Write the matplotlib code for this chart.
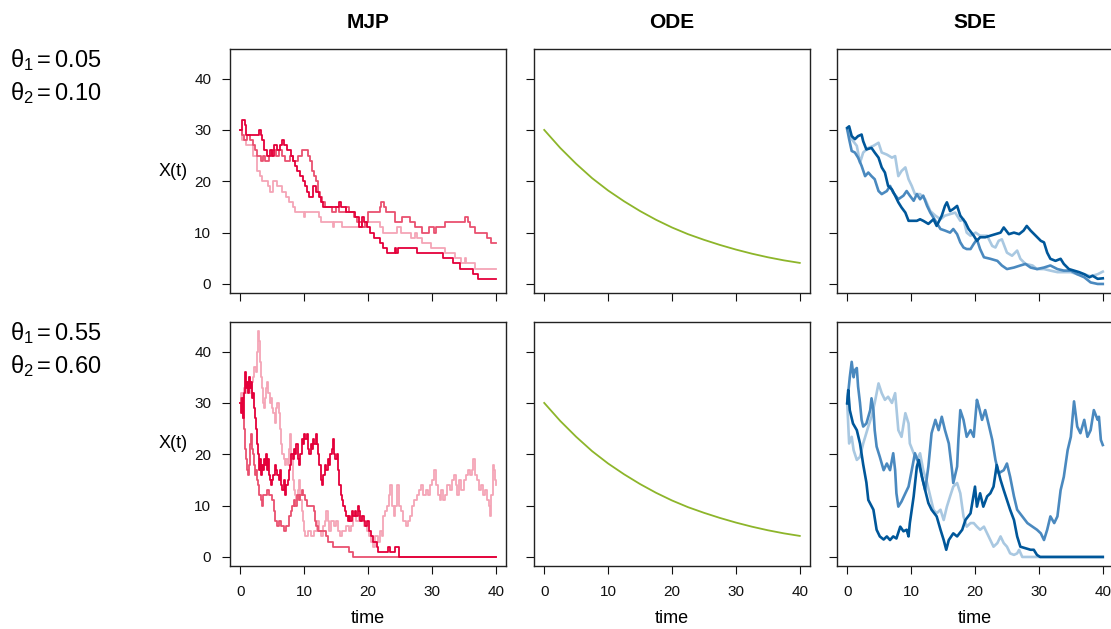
import numpy as np
import matplotlib
matplotlib.use("Agg")
import matplotlib.pyplot as plt

plt.rcParams['font.family'] = ['Liberation Sans', 'DejaVu Sans']
plt.rcParams['mathtext.fontset'] = 'custom'
plt.rcParams['mathtext.rm'] = 'Liberation Sans'
plt.rcParams['mathtext.it'] = 'Liberation Sans'

# ---- data: (time, X(t)) pairs ----
theta_rows = [("0.05", "0.10"), ("0.55", "0.60")]
col_titles = ["MJP", "ODE", "SDE"]
ticks = [0, 10, 20, 30, 40]

# MJP, theta = (0.05, 0.10)
mjp_top_light = [(0,30),(0.3,28),(0.9,27),(2.0,25),(2.6,22),(3.1,21),(3.4,20),(4.4,19),(4.7,18),(5.1,20),
                 (5.8,19),(6.5,18),(7.2,17),(7.6,16),(8.2,15),(8.6,14),(10.0,13),(10.2,14),(12.3,13),(12.6,12),
                 (14.5,11),(14.7,12),(16.0,11),(19.8,12),(21.8,11),(22.4,10),(24.6,11),(25.1,10),(26.7,9),(27.4,10),
                 (27.6,9),(28.5,8),(29.8,7),(32.0,6),(33.6,5),(34.6,4),(35.2,5),(35.4,4),(36.8,3),(40,3)]
mjp_top_mid = [(0,30),(0.3,29),(0.6,28),(1.0,29),(1.5,28),(2.0,27),(2.3,26),(2.6,25),(3.2,24),(3.5,25),
               (3.8,24),(4.5,25),(5.0,26),(5.6,25),(6.1,26),(6.6,25),(7.0,24),(7.8,25),(8.2,24),(9.0,25),
               (9.6,26),(10.6,25),(10.9,24),(11.3,22),(11.6,21),(11.9,20),(12.2,18),(12.5,17),(12.8,16),(13.2,15),
               (14.4,14),(15.0,15),(15.5,14),(16.6,15),(17.0,14),(17.8,13),(18.3,12),(19.0,11),(19.6,12),(20.0,14),
               (21.8,15),(22.0,16),(22.5,15),(22.8,14),(24.2,12),(25.3,13),(26.6,12),(27.4,11),(28.4,10),(29.6,11),
               (30.4,10),(30.6,11),(32.0,12),(35.2,13),(35.7,12),(36.0,11),(36.8,10),(38.6,9),(39.2,8),(40,8)]
mjp_top_dark = [(0,30),(0.3,32),(0.7,31),(0.9,29),(3.0,30),(3.2,29),(3.4,28),(3.7,26),(4.2,25),(4.6,26),
                (5.0,25),(5.3,27),(5.7,26),(6.2,27),(6.5,28),(6.9,27),(7.3,26),(7.9,25),(8.3,24),(8.6,23),
                (8.9,22),(9.4,21),(9.9,20),(10.2,19),(10.5,18),(10.8,17),(11.4,19),(11.8,18),(12.3,17),(12.6,16),
                (13.0,15),(15.4,16),(15.7,15),(16.5,14),(17.9,13),(18.6,11),(19.0,13),(19.4,12),(19.8,11),(20.3,10),
                (21.0,9),(21.9,8),(22.4,7),(23.0,6),(24.2,7),(24.4,6),(24.7,7),(27.6,6),(31.8,5),(33.3,4),
                (34.4,3),(36.4,2),(37.2,1),(40,1)]

# MJP, theta = (0.55, 0.60)
mjp_bot_light = [(0,30),(0.2,32),(0.4,31),(0.6,33),(0.8,32),(1.0,34),(1.2,33),(1.4,35),(1.6,32),(1.8,34),
                 (2.0,35),(2.2,37),(2.4,36),(2.6,40),(2.8,44),(2.95,42),(3.1,38),(3.25,35),(3.4,33),(3.55,30),
                 (3.7,29),(3.85,31),(4.0,33),(4.2,34),(4.4,32),(4.6,30),(4.8,31),(5.0,29),(5.2,28),(5.4,26),
                 (5.6,29),(5.8,30),(6.0,28),(6.2,25),(6.4,22),(6.6,20),(6.8,19),(7.0,18),(7.2,19),(7.4,18),
                 (7.6,21),(7.8,24),(8.0,19),(8.2,15),(8.4,13),(8.6,12),(8.8,11),(9.0,13),(9.2,15),(9.4,11),
                 (9.6,9),(9.8,7),(10.0,5),(10.2,4),(10.6,5),(11.0,4),(11.6,5),(12.0,7),(12.3,5),(12.6,4),
                 (12.9,6),(13.2,7),(13.5,9),(13.7,7),(13.9,5),(14.2,7),(14.6,6),(15.0,7),(15.3,5),(15.6,4),
                 (16.0,5),(16.5,6),(17.0,5),(17.4,6),(17.7,8),(18.2,7),(18.6,8),(19.0,7),(19.4,6),(19.8,5),
                 (20.2,4),(20.5,3),(20.8,2),(21.1,4),(21.6,3),(21.9,5),(22.2,4),(22.4,8),(22.7,9),(23.0,10),
                 (23.3,12),(23.5,14),(23.7,10),(24.0,8),(24.2,10),(24.5,14),(24.8,10),(25.1,9),(25.5,7),(25.9,6),
                 (26.3,7),(26.6,8),(26.9,10),(27.2,11),(27.6,12),(28.0,13),(28.3,14),(28.6,12),(29.0,13),(29.4,12),
                 (29.7,14),(30.0,15),(30.3,17),(30.6,14),(30.9,12),(31.2,11),(31.5,13),(31.8,11),(32.1,12),(32.4,14),
                 (32.8,13),(33.1,15),(33.4,16),(33.7,14),(34.0,12),(34.3,15),(34.6,13),(35.0,15),(35.3,16),(35.6,17),
                 (36.0,16),(36.3,17),(36.5,19),(36.8,16),(37.1,15),(37.4,13),(37.7,14),(38.0,12),(38.3,13),(38.6,11),
                 (38.9,10),(39.1,8),(39.3,12),(39.5,18),(39.7,17),(39.85,15),(40,14)]
mjp_bot_mid = [(0,30),(0.2,31),(0.35,29),(0.5,27),(0.65,25),(0.8,21),(0.95,19),(1.1,17),(1.25,16),(1.4,18),
               (1.55,22),(1.7,24),(1.85,21),(2.0,20),(2.15,18),(2.3,16),(2.45,17),(2.6,15),(2.8,14),(3.0,12),
               (3.2,11),(3.4,10),(3.6,12),(4.2,13),(4.5,12),(5.0,11),(5.3,9),(5.5,7),(5.7,6),(6.1,7),
               (6.4,6),(6.8,5),(7.1,6),(7.6,8),(7.9,9),(8.1,10),(8.4,11),(8.6,10),(8.9,12),(9.2,11),
               (9.4,12),(9.6,13),(9.9,12),(10.2,11),(10.5,10),(11.5,9),(11.7,7),(11.9,6),(12.2,5),(13.5,4),
               (13.7,3),(14.5,2),(16.7,2),(17.0,1),(17.7,0),(40,0)]
mjp_bot_dark = [(0,30),(0.15,28),(0.3,31),(0.45,27),(0.6,32),(0.8,36),(0.95,33),(1.1,34),(1.25,32),(1.4,35),
                (1.55,33),(1.7,34),(1.85,31),(2.0,32),(2.2,29),(2.35,27),(2.5,25),(2.7,22),(2.85,20),(3.0,17),
                (3.15,19),(3.3,16),(3.45,18),(3.6,17),(3.75,19),(3.9,18),(4.05,20),(4.2,17),(4.35,19),(4.5,16),
                (4.65,15),(4.8,14),(4.95,15),(5.2,16),(5.4,18),(5.6,17),(5.8,16),(6.0,15),(6.2,17),(6.4,14),
                (6.6,13),(6.8,15),(7.0,12),(7.2,14),(7.4,15),(7.6,17),(7.8,18),(8.0,20),(8.2,19),(8.4,21),
                (8.6,20),(8.8,22),(9.0,19),(9.2,18),(9.4,20),(9.6,23),(9.8,22),(10.0,24),(10.2,23),(10.4,24),
                (10.6,21),(10.8,20),(11.0,22),(11.2,21),(11.4,23),(11.6,22),(11.8,24),(12.0,22),(12.2,20),(12.4,18),
                (12.6,15),(12.8,14),(13.0,16),(13.3,18),(13.5,17),(13.7,19),(13.9,18),(14.1,20),(14.3,21),(14.5,23),
                (14.7,20),(14.9,19),(15.1,20),(15.3,17),(15.5,14),(15.7,12),(15.9,11),(16.1,10),(16.4,9),(16.6,8),
                (16.8,7),(17.0,8),(17.2,7),(17.5,9),(17.7,8),(17.9,9),(18.1,8),(18.4,10),(18.6,9),(18.8,7),
                (19.0,8),(19.3,7),(19.6,6),(19.9,7),(20.2,5),(20.5,4),(20.8,3),(21.1,3),(21.4,2),(21.6,1),
                (23.2,2),(23.5,1),(24.3,2),(24.8,0),(40,0)]

# ODE solution (same in both rows)
ode_path = [(0,30),(2.5,26.5),(5,23.4),(7.5,20.6),(10,18.2),(12.5,16.1),(15,14.2),(17.5,12.5),(20,11.0),
            (22.5,9.7),(25,8.6),(27.5,7.6),(30,6.7),(32.5,5.9),(35,5.2),(37.5,4.6),(40,4.1)]

# SDE, theta = (0.05, 0.10)
sde_top_light = [(0,30.1),(0.7,28.2),(1.5,26.9),(2.0,23.6),(2.5,25.6),(3.3,26.5),(4.1,26.9),(4.9,27.5),(5.4,25.6),(6.2,25.2),
                 (7.0,24.6),(7.5,24.9),(8.0,21.0),(8.5,22.0),(9.1,22.7),(9.6,20.4),(10.1,19.1),(10.6,17.5),(11.4,17.5),(12.2,16.5),
                 (13.0,14.2),(13.8,13.3),(14.6,12.6),(15.3,13.3),(16.1,13.6),(16.9,13.9),(17.7,12.3),(18.2,12.6),(18.7,10.0),(19.3,9.4),
                 (20.1,10.0),(20.8,9.4),(21.9,9.4),(22.7,7.4),(23.2,7.1),(23.7,8.4),(24.2,8.7),(25.0,6.1),(25.8,5.5),(26.6,6.5),
                 (27.1,4.9),(27.9,3.9),(29.0,3.6),(29.7,2.9),(30.8,2.9),(31.8,2.6),(32.9,2.3),(33.9,2.3),(35.0,2.3),(36.0,1.9),
                 (37.1,1.9),(38.1,1.5),(39.2,1.9),(40,2.4)]
sde_top_mid = [(0,30.1),(0.3,28.2),(0.7,25.9),(1.2,25.6),(1.7,24.6),(2.25,23.0),(2.8,21.0),(3.3,21.7),(3.8,21.0),(4.3,20.4),
               (4.9,18.1),(5.4,17.5),(6.2,18.1),(6.7,19.1),(7.2,17.8),(8.0,16.5),(8.8,17.2),(9.3,18.1),(9.8,17.2),(10.4,16.2),
               (10.9,17.5),(11.4,16.5),(11.9,17.2),(12.5,15.2),(13.0,13.9),(13.8,12.3),(14.6,10.7),(15.3,10.4),(16.1,10.0),(16.6,10.7),
               (17.2,9.7),(17.7,8.1),(18.2,7.1),(18.7,6.8),(19.3,6.8),(19.8,7.8),(20.3,8.7),(20.8,6.8),(21.4,5.2),(22.4,4.9),
               (23.5,4.5),(24.2,3.6),(25.0,2.9),(26.1,3.2),(27.1,3.6),(27.9,3.9),(28.7,3.2),(29.7,2.9),(30.8,3.2),(31.8,3.6),
               (32.9,2.9),(33.9,2.6),(35.0,2.6),(36.0,1.9),(37.1,1.3),(38.1,0.3),(39.2,0.0),(40,0.0)]
sde_top_dark = [(0,30.4),(0.3,30.7),(0.7,28.8),(1.2,28.2),(1.7,28.8),(2.25,29.1),(2.5,27.8),(3.0,26.2),(3.8,26.5),(4.3,25.6),
                (4.9,24.6),(5.4,22.7),(5.9,21.7),(6.4,19.1),(7.0,18.4),(7.5,17.2),(8.0,15.9),(8.5,14.9),(9.1,13.9),(9.6,12.3),
                (10.1,12.3),(10.9,12.3),(11.4,12.6),(11.9,12.3),(12.7,11.7),(13.5,12.6),(14.0,11.3),(14.8,13.3),(15.3,15.2),(15.6,15.9),
                (16.1,14.2),(16.6,14.6),(17.2,15.2),(17.7,13.3),(18.5,12.0),(19.0,10.7),(19.8,9.4),(20.3,8.4),(20.8,9.1),(21.6,9.1),
                (22.4,9.4),(23.2,9.7),(24.0,10.0),(24.5,11.0),(25.3,9.7),(26.1,10.0),(26.9,9.7),(27.6,10.4),(28.1,11.3),(28.7,10.4),
                (29.5,9.4),(30.3,8.4),(30.8,8.1),(31.3,6.1),(31.8,4.9),(32.6,4.5),(33.4,4.9),(33.9,3.9),(34.7,2.9),(35.5,2.6),
                (36.3,2.3),(37.1,1.9),(37.9,1.3),(38.4,1.6),(39.2,1.0),(40,1.1)]

# SDE, theta = (0.55, 0.60)
sde_bot_light = [(0,30.0),(0.3,22.1),(0.7,23.4),(1.0,20.8),(1.5,18.9),(2.0,19.5),(2.5,22.1),(3.3,25.4),(3.8,27.3),(4.3,30.0),
                 (4.9,33.8),(5.4,31.9),(5.9,30.6),(6.4,31.2),(7.0,30.0),(7.5,31.9),(8.0,24.7),(8.5,23.4),(9.1,28.0),(9.6,26.0),
                 (9.8,22.1),(10.4,20.2),(10.9,18.9),(11.4,20.2),(11.9,16.9),(12.5,14.4),(13.0,11.8),(13.5,9.2),(14.0,8.5),(14.6,9.2),
                 (15.1,7.2),(15.6,9.8),(16.1,11.8),(16.6,13.7),(17.2,14.4),(17.7,12.4),(18.2,7.9),(18.7,5.9),(19.3,6.6),(19.8,6.6),
                 (20.3,5.9),(20.8,5.3),(21.4,5.9),(21.9,4.6),(22.4,3.3),(22.9,2.0),(23.5,2.7),(24.0,4.0),(24.5,2.7),(25.0,2.0),
                 (25.5,0.7),(26.1,0.4),(26.6,0.7),(26.9,1.4),(27.4,0.0),(40,0.0)]
sde_bot_mid = [(0,30.0),(0.4,35.0),(0.7,38.0),(1.0,35.0),(1.2,36.4),(1.5,36.8),(1.7,33.2),(2.0,30.0),(2.25,26.7),(2.5,25.4),
               (3.0,26.0),(3.3,27.3),(3.6,28.6),(3.8,30.9),(4.1,28.6),(4.3,24.7),(4.6,21.5),(5.1,19.5),(5.7,16.9),(6.2,18.2),
               (6.7,16.9),(7.2,20.2),(7.5,16.9),(7.7,12.4),(8.0,9.8),(8.5,10.8),(9.1,12.4),(9.6,13.7),(10.1,16.9),(10.6,20.2),
               (11.2,18.2),(11.7,15.6),(12.2,13.0),(12.7,17.6),(13.2,24.1),(13.8,26.7),(14.3,24.7),(14.8,27.3),(15.3,24.7),(15.9,22.1),
               (16.4,16.9),(16.6,14.4),(17.2,17.6),(17.4,22.8),(17.7,28.6),(18.2,26.7),(18.7,23.4),(19.3,24.7),(19.8,23.4),(20.3,30.6),
               (20.6,29.3),(21.1,26.7),(21.6,28.6),(22.1,26.0),(22.7,22.8),(23.2,18.9),(23.7,16.3),(24.5,16.9),(25.0,18.2),(25.5,15.6),
               (26.1,11.8),(26.6,9.2),(27.4,7.9),(28.2,6.6),(29.0,5.9),(29.7,5.3),(30.3,4.6),(30.8,3.3),(31.3,5.3),(31.8,7.9),
               (32.4,6.6),(32.9,7.9),(33.4,13.0),(33.9,15.6),(34.5,20.8),(35.0,23.4),(35.5,30.3),(36.0,25.4),(36.5,24.1),(37.1,26.7),
               (37.6,23.4),(38.1,24.7),(38.6,28.6),(39.2,26.7),(39.4,27.3),(39.7,22.8),(40,21.8)]
sde_bot_dark = [(0,29.9),(0.16,32.5),(0.4,28.6),(0.9,26.0),(1.5,24.7),(2.0,22.1),(2.5,18.0),(3.0,14.5),(3.3,11.1),(4.1,9.2),
                (4.6,5.3),(5.1,4.0),(5.7,3.4),(6.2,4.0),(6.7,3.3),(7.2,4.0),(7.7,3.6),(8.3,5.9),(8.8,5.0),(9.3,5.3),
                (9.6,4.0),(9.8,6.6),(10.4,11.8),(10.9,17.6),(11.2,18.9),(11.7,15.6),(12.2,13.0),(12.7,10.5),(13.2,9.2),(14.0,7.9),
                (14.6,5.3),(15.1,3.3),(15.5,1.4),(15.9,3.3),(16.6,4.6),(17.2,4.0),(18.0,5.3),(18.5,7.2),(19.3,8.5),(20.0,13.7),
                (20.3,9.8),(20.8,12.4),(21.3,9.8),(21.9,11.8),(22.4,12.4),(22.9,13.7),(23.4,17.9),(24.0,15.0),(24.5,13.0),(25.0,11.1),
                (25.5,9.2),(26.1,7.2),(26.6,4.0),(27.1,2.0),(27.9,1.7),(28.7,1.4),(29.2,1.4),(29.7,0.4),(30.2,0.0),(40,0.0)]

mjp_rows = [(mjp_top_light, mjp_top_mid, mjp_top_dark), (mjp_bot_light, mjp_bot_mid, mjp_bot_dark)]
sde_rows = [(sde_top_light, sde_top_mid, sde_top_dark), (sde_bot_light, sde_bot_mid, sde_bot_dark)]

reds = ["#F4A5B6", "#E9506F", "#E4003A"]
blues = ["#A9C8E1", "#4A89BF", "#00579A"]
green = "#8DB52A"

W, H = 1111, 629
fig = plt.figure(figsize=(W / 100, H / 100), dpi=100)

col_left = [230, 534, 837]
row_top = [49, 322]
pw, ph = 276, 244


def split(path):
    a = np.array(path, dtype=float)
    return a[:, 0], a[:, 1]


for r in range(2):
    for c in range(3):
        ax = fig.add_axes([col_left[c] / W, 1 - (row_top[r] + ph) / H, pw / W, ph / H])
        ax.set_xlim(-1.6, 41.6)
        ax.set_ylim(-1.76, 45.76)
        ax.set_xticks(ticks)
        ax.set_yticks(ticks)
        ax.tick_params(direction='out', length=5.5, width=0.8, labelsize=11, colors='#111111')
        ax.tick_params(axis='x', pad=8)
        ax.tick_params(axis='y', pad=8)
        for s in ax.spines.values():
            s.set_linewidth(1.0)
            s.set_color('#222222')
        if c == 0:
            for path, col in zip(mjp_rows[r], reds):
                t, v = split(path)
                ax.plot(t, v, drawstyle='steps-post', color=col, lw=1.3)
            ax.text(-0.205, 0.5, "X(t)", transform=ax.transAxes, ha='center', va='center', fontsize=13)
        elif c == 1:
            t, v = split(ode_path)
            ax.plot(t, v, color=green, lw=1.3)
        else:
            for path, col in zip(sde_rows[r], blues):
                t, v = split(path)
                ax.plot(t, v, color=col, lw=1.9)
        if c > 0:
            ax.set_yticklabels([])
        if r == 0:
            ax.set_xticklabels([])
            ax.set_title(col_titles[c], fontsize=15, fontweight='bold', pad=15)
        else:
            ax.set_xlabel("time", fontsize=13, labelpad=8)

for r in range(2):
    th1, th2 = theta_rows[r]
    y0 = [60, 333][r]
    fig.text(10 / W, 1 - y0 / H, r"$\theta_1 = %s$" % th1, fontsize=17, va='center', ha='left')
    fig.text(10 / W, 1 - (y0 + 33) / H, r"$\theta_2 = %s$" % th2, fontsize=17, va='center', ha='left')

fig.savefig("out.png", dpi=100, facecolor='white')
